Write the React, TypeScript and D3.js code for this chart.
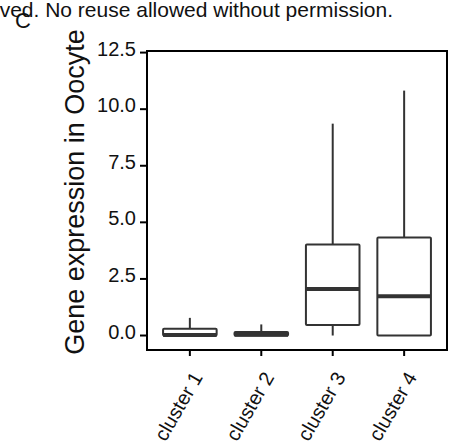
import React from "react";
import * as d3 from "d3";

// values
const clusters = ["cluster 1", "cluster 2", "cluster 3", "cluster 4"];
const whiskerLow = [0, 0, 0, 0];
const quartile1 = [0, 0, 0.46, 0];
const medians = [0.02, 0.03, 2.05, 1.74];
const quartile3 = [0.3, 0.15, 4.02, 4.33];
const whiskerHigh = [0.78, 0.49, 9.36, 10.82];
const yTicks = [0, 2.5, 5, 7.5, 10, 12.5];

const WIDTH = 451;
const HEIGHT = 448;
const FONT = "'Liberation Sans', Arial, Helvetica, sans-serif";
const panel = { left: 147, right: 447, top: 51, bottom: 350 };

export default function App() {
  const x = d3
    .scalePoint<string>()
    .domain(clusters)
    .range([panel.left, panel.right])
    .padding(0.6);
  const y = d3
    .scaleLinear()
    .domain([-0.64, 12.57])
    .range([panel.bottom, panel.top]);
  const boxW = x.step() * 0.75;

  const boxes = clusters.map((c, i) => ({
    name: c,
    lo: whiskerLow[i],
    q1: quartile1[i],
    med: medians[i],
    q3: quartile3[i],
    hi: whiskerHigh[i],
  }));

  return (
    <svg
      width={WIDTH}
      height={HEIGHT}
      style={{ position: "absolute", left: 0, top: 0, background: "#fff" }}
      fontFamily={FONT}
    >
      {/* cropped caption from the source page */}
      <text x={393} y={17} fontSize={21} textAnchor="end" fill="#111">
        ved. No reuse allowed without permission.
      </text>
      <text x={15} y={28} fontSize={22} fill="#111">
        C
      </text>

      {/* boxes */}
      {boxes.map((b) => {
        const cx = x(b.name) as number;
        return (
          <g key={b.name} stroke="#333333" fill="#fff" strokeLinejoin="round">
            <line x1={cx} x2={cx} y1={y(b.q3)} y2={y(b.hi)} strokeWidth={2} />
            <line x1={cx} x2={cx} y1={y(b.q1)} y2={y(b.lo)} strokeWidth={2} />
            <rect
              x={cx - boxW / 2}
              width={boxW}
              y={y(b.q3)}
              height={Math.max(0.01, y(b.q1) - y(b.q3))}
              strokeWidth={2}
              rx={1}
            />
            <line
              x1={cx - boxW / 2}
              x2={cx + boxW / 2}
              y1={y(b.med)}
              y2={y(b.med)}
              strokeWidth={4}
            />
          </g>
        );
      })}

      {/* panel border */}
      <rect
        x={panel.left}
        y={panel.top}
        width={panel.right - panel.left}
        height={panel.bottom - panel.top}
        fill="none"
        stroke="#000"
        strokeWidth={2}
      />

      {/* y axis */}
      {yTicks.map((t) => (
        <g key={t}>
          <line x1={140} x2={panel.left} y1={y(t)} y2={y(t)} stroke="#000" strokeWidth={2} />
          <text x={136} y={y(t) + 3} fontSize={20} textAnchor="end" fill="#111">
            {d3.format(".1f")(t)}
          </text>
        </g>
      ))}
      <text
        transform="translate(84,192) rotate(-90)"
        fontSize={27}
        textAnchor="middle"
        fill="#111"
      >
        Gene expression in Oocyte
      </text>

      {/* x axis */}
      {clusters.map((c) => {
        const cx = x(c) as number;
        return (
          <g key={c}>
            <line x1={cx} x2={cx} y1={panel.bottom} y2={panel.bottom + 6} stroke="#000" strokeWidth={2} />
            <text
              transform={`translate(${cx + 13.5},${panel.bottom + 27}) rotate(-60)`}
              fontSize={20}
              textAnchor="end"
              fill="#111"
            >
              {c}
            </text>
          </g>
        );
      })}
    </svg>
  );
}
